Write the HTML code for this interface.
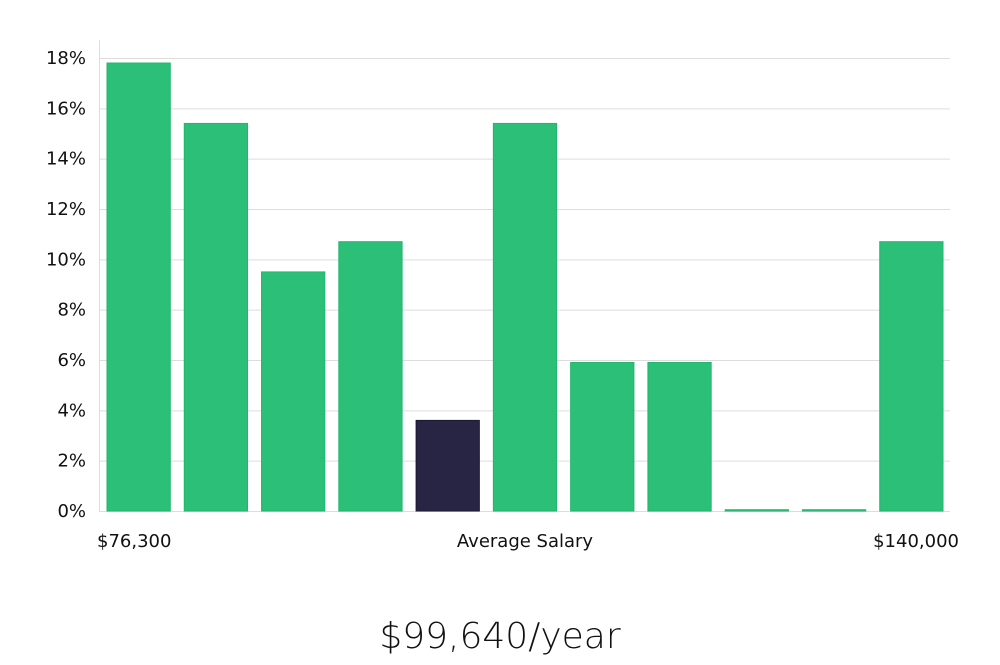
<!DOCTYPE html>
<html><head><meta charset="utf-8"><style>
body{margin:0;background:#fff;width:1000px;height:660px;overflow:hidden}
svg text{font-family:"DejaVu Sans","Liberation Sans",sans-serif;fill:#111}
</style></head><body>
<svg width="1000" height="660">
<g id="grid"></g>
<g id="yt"></g>
<line x1="99.5" y1="40" x2="99.5" y2="512" stroke="#ddd"/>
<g id="bars"></g>
<text x="97" y="547" font-size="18">$76,300</text>
<text x="525" y="547" font-size="18" text-anchor="middle">Average Salary</text>
<text x="959" y="547" font-size="18" text-anchor="end">$140,000</text>
<text x="500" y="648" font-size="36" text-anchor="middle" style="font-weight:300">$99,640/year</text>
</svg>
<script>
const categories=["b1","b2","b3","b4","b5","b6","b7","b8","b9","b10","b11"];
const values=[17.8,15.4,9.5,10.7,3.6,15.4,5.9,5.9,0.05,0.05,10.7];
const highlightIndex=4;
const yTicks=[0,2,4,6,8,10,12,14,16,18];
const ns="http://www.w3.org/2000/svg";
const x0=100,x1=950,y0=511,yTop=58,yMax=18;
const y=v=>y0-(v/yMax)*(y0-yTop);
const slot=(x1-x0)/categories.length;
const g=document.getElementById('grid'),yt=document.getElementById('yt'),b=document.getElementById('bars');
yTicks.forEach(t=>{
 const l=document.createElementNS(ns,'line');
 
 
 l.setAttribute('x1',x0);l.setAttribute('x2',x1);l.setAttribute('y1',y(t)+0.5);l.setAttribute('y2',y(t)+0.5);
 l.setAttribute('stroke','#ddd');g.appendChild(l);
 const tx=document.createElementNS(ns,'text');
 
 
 tx.setAttribute('x',86);tx.setAttribute('y',y(t)+6);tx.setAttribute('text-anchor','end');tx.setAttribute('font-size','18');
 tx.textContent=t+'%';yt.appendChild(tx);
});
values.forEach((v,i)=>{
 const r=document.createElementNS(ns,'rect');
 
 
 const h=Math.max(1,y0-y(v));
 r.setAttribute('x',x0+i*slot+7);r.setAttribute('width',slot-14);
 r.setAttribute('y',y0-h);r.setAttribute('height',h);
 r.setAttribute('fill',i===highlightIndex?'#282444':'#2bbf78');
 r.setAttribute('stroke',i===highlightIndex?'#1c1838':'#22b56e');
 b.appendChild(r);
});
</script>
</body></html>
